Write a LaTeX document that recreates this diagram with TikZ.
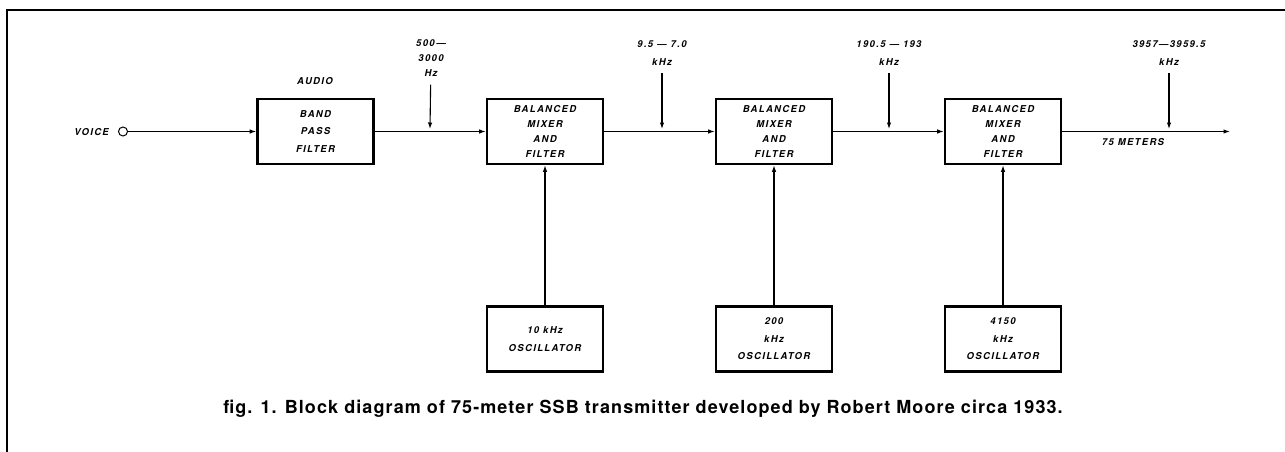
\documentclass[tikz,border=0pt]{standalone}
\usepackage{fontspec}
\usetikzlibrary{arrows.meta}
\newfontfamily\labfont{TeX Gyre Heros}[LetterSpace=14]
\newfontfamily\capfont{TeX Gyre Heros}[LetterSpace=6]
\begin{document}
\begin{tikzpicture}[x=1pt,y=-1pt,
  lab/.style={font=\labfont\bfseries\itshape\fontsize{9.5}{15}\selectfont, align=center, inner sep=0pt},
  labw/.style={font=\labfont\bfseries\itshape\fontsize{9.5}{17.5}\selectfont, align=center, inner sep=0pt},
  blk/.style={draw, line width=2.6pt, minimum width=116pt, minimum height=65pt, inner sep=0pt, align=center},
  mixer/.style={blk, lab},
  osc/.style={blk, labw},
  wire/.style={line width=1.1pt},
  arr/.style={wire, -{Latex[length=6.5pt,width=4.5pt]}},
  border/.style={line width=1.6pt}]
\useasboundingbox (0,0) rectangle (1285,452);
% frame lines
\coordinate (tl) at (7,10);
\coordinate (tr) at (1285,10);
\coordinate (bl) at (7,452);
\draw[border] (tr) -- (tl) -- (bl);

% input
\node[circle, draw, line width=1pt, minimum size=9pt, inner sep=0pt] (voice) at (123,131.5) {};
\node[lab, anchor=east] (voicelbl) at (109,132) {VOICE};

% blocks
\node[osc] (bpf) at (315.5,131.5) {BAND\\PASS\\FILTER};
\node[lab] (audio) at (315,81) {AUDIO};
\node[mixer] (m1) at (545,131.5) {BALANCED\\MIXER\\AND\\FILTER};
\node[mixer] (m2) at (774,131.5) {BALANCED\\MIXER\\AND\\FILTER};
\node[mixer] (m3) at (1003,131.5) {BALANCED\\MIXER\\AND\\FILTER};
\node[osc] (o1) at (545,339) {10 kHz\\OSCILLATOR};
\node[osc] (o2) at (774,339) {200\\kHz\\OSCILLATOR};
\node[osc] (o3) at (1003,339) {4150\\kHz\\OSCILLATOR};
\coordinate (out) at (1230,131.5);
\node[lab] (meters) at (1133,142) {75 METERS};

% signal path
\draw[arr] (voice) -- (bpf);
\draw[arr] (bpf) -- (m1);
\draw[arr] (m1) -- (m2);
\draw[arr] (m2) -- (m3);
\draw[arr] (m3) -- (out);
\draw[arr] (o1) -- (m1);
\draw[arr] (o2) -- (m2);
\draw[arr] (o3) -- (m3);

% frequency labels
\node[lab] (f1) at (431,58) {500\,\textemdash\\3000\\Hz};
\node[labw] (f2) at (662,53) {9.5 \textemdash{} 7.0\\kHz};
\node[labw] (f3) at (889,53) {190.5 \textemdash{} 193\\kHz};
\node[labw] (f4) at (1169,53) {3957\textemdash3959.5\\kHz};
\coordinate (t1) at (430,129);
\coordinate (t2) at (662,129);
\coordinate (t3) at (889,129);
\coordinate (t4) at (1169,129);
\draw[arr, shorten <=8pt] (f1) -- (t1);
\draw[arr, shorten <=8pt] (f2) -- (t2);
\draw[arr, shorten <=8pt] (f3) -- (t3);
\draw[arr, shorten <=8pt] (f4) -- (t4);

% caption
\node[font=\capfont\bfseries\fontsize{18}{22}\selectfont, inner sep=0pt] (cap) at (643,409)
  {fig. 1. Block diagram of 75-meter SSB transmitter developed by Robert Moore circa 1933.};
\end{tikzpicture}
\end{document}
